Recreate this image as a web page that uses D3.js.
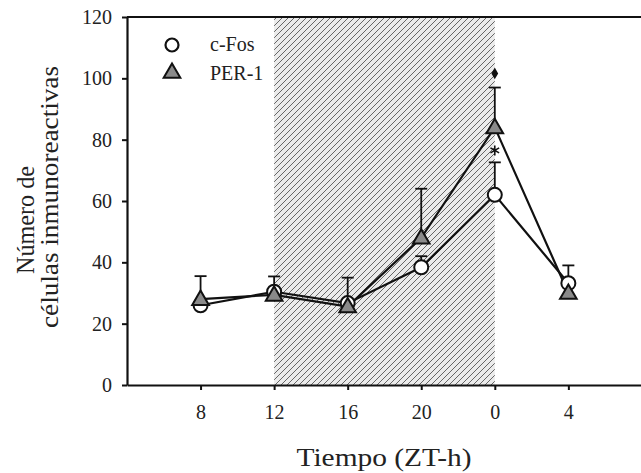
<!DOCTYPE html>
<html>
<head>
<meta charset="utf-8">
<script src="https://cdn.jsdelivr.net/npm/d3@7"></script>
<style>
  body { margin: 0; background: #fff; }
  text { font-family: "Liberation Serif", "DejaVu Serif", serif; fill: #222; }
</style>
</head>
<body>
<svg id="chart"></svg>
<script>
// time points (ZT hours, continuous so 0 and 4 come after 20)
const times = [8, 12, 16, 20, 24, 28];
const tickLabels = ["8", "12", "16", "20", "0", "4"];

// c-Fos means and upper error
const cfos = [26, 30.4, 26.7, 38.4, 62, 33.2];
const cfosErr = [0, 0, 0, 3.6, 10.6, 5.8];

// PER-1 means and upper error
const per1 = [28, 29.4, 25.6, 48, 84, 30];
const per1Err = [7.5, 6, 9.4, 16, 13, 0];

// significance marks at ZT 0
const marks = [{ t: 24, v: 101.6, s: "diamond" }, { t: 24, v: 76.5, s: "ast" }];

const W = 641, H = 473;
let margin = {top: 17, right: 0, bottom: 88, left: 127},
    width = W - margin.left - margin.right,
    height = H - margin.top - margin.bottom;

let svg = d3.select("#chart")
    .attr("width", W)
    .attr("height", H);

let x = d3.scaleLinear().domain([4, 31.95]).range([0, width]);
let y = d3.scaleLinear().domain([0, 120]).range([height, 0]);

// hatch pattern for the dark phase
let defs = svg.append("defs");
let pat = defs.append("pattern")
    .attr("id", "hatch")
    .attr("patternUnits", "userSpaceOnUse")
    .attr("width", 6).attr("height", 6);
pat.append("rect").attr("width", 6).attr("height", 6).attr("fill", "#ebebeb");
pat.append("path")
    .attr("d", "M-1,1 l2,-2 M0,6 l6,-6 M5,7 l2,-2")
    .attr("stroke", "#666").attr("stroke-width", 1);

let g = svg.append("g")
    .attr("transform", "translate(" + margin.left + "," + margin.top + ")");

g.append("rect")
    .attr("x", x(12)).attr("y", 0)
    .attr("width", x(24) - x(12)).attr("height", height)
    .attr("fill", "url(#hatch)");

// top border
g.append("line")
    .attr("x1", 0).attr("x2", width)
    .attr("y1", 0).attr("y2", 0)
    .attr("stroke", "#111").attr("stroke-width", 2);

// axes
let xAxis = g.append("g")
    .attr("transform", "translate(0," + height + ")")
    .call(d3.axisBottom(x).tickValues(times)
        .tickFormat(function(d, i) { return tickLabels[i]; })
        .tickSize(5).tickSizeOuter(0).tickPadding(15));
let yAxis = g.append("g")
    .call(d3.axisLeft(y).tickValues(d3.range(0, 121, 20))
        .tickSize(5).tickSizeOuter(0).tickPadding(10));

[xAxis, yAxis].forEach(function(a) {
    a.select(".domain").attr("stroke", "#111").attr("stroke-width", 2.2);
    a.selectAll(".tick line").attr("stroke", "#111").attr("stroke-width", 2);
    a.selectAll(".tick text").attr("font-size", 20).attr("fill", "#222")
        .attr("font-family", "Liberation Serif, serif");
});

// axis titles
svg.append("text")
    .attr("x", 384).attr("y", 466)
    .attr("text-anchor", "middle")
    .attr("font-size", 26)
    .attr("textLength", 175).attr("lengthAdjust", "spacingAndGlyphs")
    .text("Tiempo (ZT-h)");

svg.append("text")
    .attr("transform", "translate(34,220) rotate(-90)")
    .attr("text-anchor", "middle")
    .attr("font-size", 25)
    .attr("textLength", 108).attr("lengthAdjust", "spacingAndGlyphs")
    .text("Número de");
svg.append("text")
    .attr("transform", "translate(58,197) rotate(-90)")
    .attr("text-anchor", "middle")
    .attr("font-size", 25)
    .attr("textLength", 262).attr("lengthAdjust", "spacingAndGlyphs")
    .text("células inmunoreactivas");

let line = d3.line()
    .x(function(d, i) { return x(times[i]); })
    .y(function(d) { return y(d); });

function errorBars(vals, errs) {
    let eb = g.append("g").attr("stroke", "#111").attr("stroke-width", 1.8);
    vals.forEach(function(v, i) {
        if (!errs[i]) return;
        let cx = x(times[i]);
        eb.append("line").attr("x1", cx).attr("x2", cx)
            .attr("y1", y(v)).attr("y2", y(v + errs[i]));
        eb.append("line").attr("x1", cx - 6).attr("x2", cx + 6)
            .attr("y1", y(v + errs[i])).attr("y2", y(v + errs[i]));
    });
}

errorBars(per1, per1Err);
errorBars(cfos, cfosErr);

g.append("path").datum(cfos)
    .attr("d", line).attr("fill", "none")
    .attr("stroke", "#111").attr("stroke-width", 2.2);
g.append("path").datum(per1)
    .attr("d", line).attr("fill", "none")
    .attr("stroke", "#111").attr("stroke-width", 2.2);

let tri = d3.symbol().type(d3.symbolTriangle).size(120);

g.selectAll(".cfos").data(cfos).enter()
    .append("circle")
    .attr("cx", function(d, i) { return x(times[i]); })
    .attr("cy", function(d) { return y(d); })
    .attr("r", 7)
    .attr("fill", "#fff").attr("stroke", "#111").attr("stroke-width", 2);

g.selectAll(".per1").data(per1).enter()
    .append("path")
    .attr("d", tri)
    .attr("transform", function(d, i) { return "translate(" + x(times[i]) + "," + (y(d) + 1) + ")"; })
    .attr("fill", "#8a8a8a").attr("stroke", "#111").attr("stroke-width", 2);

// significance symbols
marks.forEach(function(m) {
    let shape = m.s === "diamond" ? d3.symbolDiamond : d3.symbolAsterisk;
    let p = g.append("path")
        .attr("d", d3.symbol().type(shape).size(m.s === "diamond" ? 40 : 70))
        .attr("transform", "translate(" + x(m.t) + "," + y(m.v) + ")");
    if (m.s === "diamond") p.attr("fill", "#111");
    else p.attr("fill", "none").attr("stroke", "#111").attr("stroke-width", 1.6);
});

// legend
let leg = svg.append("g");
leg.append("circle").attr("cx", 172).attr("cy", 45).attr("r", 6.5)
    .attr("fill", "#fff").attr("stroke", "#111").attr("stroke-width", 2.2);
leg.append("path").attr("d", tri)
    .attr("transform", "translate(172,73)")
    .attr("fill", "#8a8a8a").attr("stroke", "#111").attr("stroke-width", 2);
leg.append("text").attr("x", 210).attr("y", 51).attr("font-size", 20).text("c-Fos");
leg.append("text").attr("x", 210).attr("y", 80).attr("font-size", 20).text("PER-1");
</script>
</body>
</html>
